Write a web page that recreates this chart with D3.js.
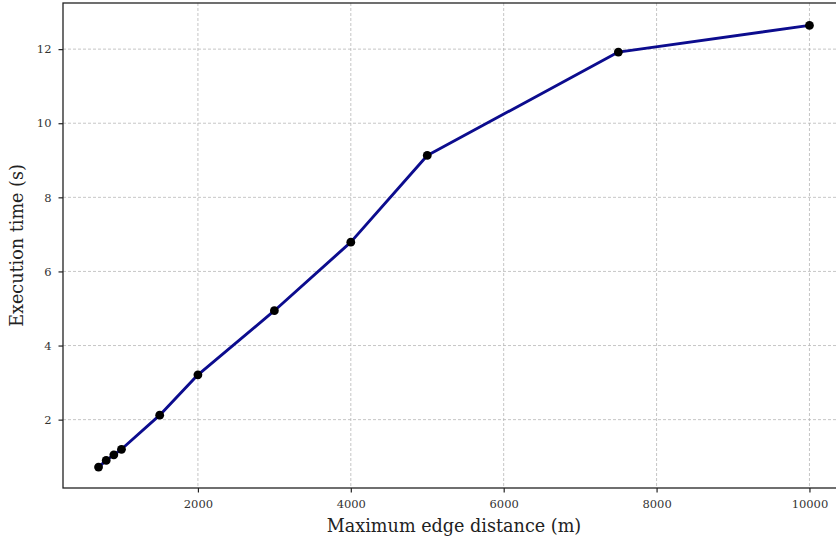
<!DOCTYPE html>
<html>
<head>
<meta charset="utf-8">
<script src="https://cdn.jsdelivr.net/npm/d3@7"></script>
<style>
  html, body { margin: 0; padding: 0; background: #fff; overflow: hidden; }
  svg { display: block; }
  .tick text { font-family: "DejaVu Serif", serif; font-size: 11.5px; fill: #333; }
</style>
</head>
<body>
<svg id="chart" width="836" height="539"></svg>
<script>
// Maximum edge distance (m) vs. execution time (s)
const distances = [700, 800, 900, 1000, 1500, 2000, 3000, 4000, 5000, 7500, 10000];
const execTimes = [0.72, 0.90, 1.05, 1.20, 2.12, 3.21, 4.94, 6.79, 9.13, 11.92, 12.64];
const xTicks = [2000, 4000, 6000, 8000, 10000];
const yTicks = [2, 4, 6, 8, 10, 12];
const xLabel = "Maximum edge distance (m)";
const yLabel = "Execution time (s)";

const svg = d3.select("#chart");
const plotLeft = 63, plotTop = 3, plotBottom = 488, plotRight = 845;

const x = d3.scaleLinear().domain([235, 10465]).range([plotLeft, plotRight]);
const y = d3.scaleLinear().domain([0.155, 13.245]).range([plotBottom, plotTop]);

// grid
const grid = svg.append("g");
grid.selectAll("line.gx").data(xTicks).join("line")
  .attr("x1", d => x(d)).attr("x2", d => x(d))
  .attr("y1", plotTop).attr("y2", plotBottom)
  .attr("stroke", "#b8b8b8").attr("stroke-width", 0.8)
  .attr("stroke-dasharray", "3,2");
grid.selectAll("line.gy").data(yTicks).join("line")
  .attr("x1", plotLeft).attr("x2", plotRight)
  .attr("y1", d => y(d)).attr("y2", d => y(d))
  .attr("stroke", "#b8b8b8").attr("stroke-width", 0.8)
  .attr("stroke-dasharray", "3,2");

// line and markers
const line = d3.line().x((d, i) => x(distances[i])).y(d => y(d));
svg.append("path").datum(execTimes)
  .attr("d", line)
  .attr("fill", "none")
  .attr("stroke", "#0c0c8e")
  .attr("stroke-width", 2.9)
  .attr("stroke-linejoin", "round");
svg.selectAll("circle.pt").data(execTimes).join("circle")
  .attr("cx", (d, i) => x(distances[i]))
  .attr("cy", d => y(d))
  .attr("r", 4.4)
  .attr("fill", "#000");

// axes
const xAxis = d3.axisBottom(x).tickValues(xTicks).tickFormat(d3.format("d")).tickSize(4.5).tickPadding(7);
const yAxis = d3.axisLeft(y).tickValues(yTicks).tickFormat(d3.format("d")).tickSize(4.5).tickPadding(7);
const gx = svg.append("g").attr("transform", `translate(0,${plotBottom})`).call(xAxis);
const gy = svg.append("g").attr("transform", `translate(${plotLeft},0)`).call(yAxis);
[gx, gy].forEach(g => {
  g.select(".domain").remove();
  g.selectAll(".tick line").attr("stroke", "#222").attr("stroke-width", 1.2);
});

// frame
svg.append("rect")
  .attr("x", plotLeft).attr("y", plotTop)
  .attr("width", plotRight - plotLeft).attr("height", plotBottom - plotTop)
  .attr("fill", "none").attr("stroke", "#222").attr("stroke-width", 1.3);

// axis labels
svg.append("text")
  .attr("x", (plotLeft + plotRight) / 2).attr("y", 532)
  .attr("text-anchor", "middle")
  .attr("font-family", "DejaVu Serif, serif").attr("font-size", 17.6)
  .attr("fill", "#222")
  .text(xLabel);
svg.append("text")
  .attr("transform", `translate(23,${(plotTop + plotBottom) / 2}) rotate(-90)`)
  .attr("text-anchor", "middle")
  .attr("font-family", "DejaVu Serif, serif").attr("font-size", 17.6)
  .attr("fill", "#222")
  .text(yLabel);
</script>
</body>
</html>
